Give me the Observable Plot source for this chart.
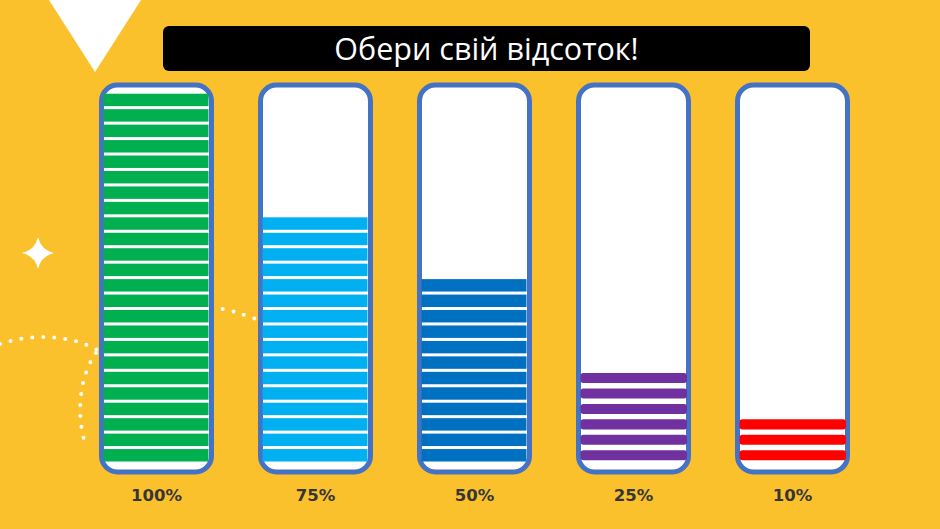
<!DOCTYPE html>
<html>
<head>
<meta charset="utf-8">
<script src="https://cdn.jsdelivr.net/npm/d3@7"></script>
<script src="https://cdn.jsdelivr.net/npm/@observablehq/plot@0.6"></script>
<style>
  html, body { margin: 0; padding: 0; background: #FBC12D; }
  #stage { position: relative; width: 940px; height: 529px; overflow: hidden; background: #FBC12D; }
  #deco { position: absolute; left: 0; top: 0; }
  #tri { position: absolute; left: 49px; top: 0; width: 0; height: 0;
         border-left: 46px solid transparent; border-right: 46px solid transparent; border-top: 72px solid #ffffff; }
  #chart { position: absolute; left: 0; top: 0; }
  #title { position: absolute; left: 163px; top: 26px; width: 647px; height: 45px; background: #000;
           border-radius: 6px; color: #fff; font-family: "Open Sans", sans-serif; font-size: 30.5px;
           line-height: 45px; text-align: center; }
</style>
</head>
<body>
<div id="stage">
  <svg id="deco" width="940" height="529">
    <g fill="none" stroke="#fff" stroke-width="4" stroke-linecap="round" stroke-dasharray="0 11">
      <path d="M0,344 C30,334 70,334 97,350"/>
      <path d="M96,353 C82,372 74,410 86,446"/>
      <path d="M212,307 C226,309 240,313 256,319"/>
    </g>
    <path d="M38,237 Q41,250 54,253 Q41,256 38,269 Q35,256 22,253 Q35,250 38,237 Z" fill="#fff"/>
  </svg>
  <div id="tri"></div>
  <div id="chart"></div>
  <div id="title">Обери свій відсоток!</div>
</div>
<script>
// Categories (tick labels) and how many stripes each container is filled with
const categories = ["100%", "75%", "50%", "25%", "10%"];
const stripeCounts = [24, 16, 12, 6, 3];
const fillColors = ["#00B050", "#00B0F0", "#0070C0", "#7030A0", "#FF0000"];

const stripes = [];
categories.forEach((cat, k) => {
  for (let i = 0; i < stripeCounts[k]; i++) stripes.push({cat, i});
});
const labelRows = categories.map(cat => ({cat}));
const wide = new Set(["25%", "10%"]);

const chart = Plot.plot({
  width: 940,
  height: 529,
  marginLeft: 99.5,
  marginRight: 92.5,
  marginTop: 84.5,
  marginBottom: 57.5,
  style: {background: "transparent", overflow: "visible"},
  fx: {domain: categories, paddingInner: 0.31, paddingOuter: 0, axis: null, label: null},
  y: {domain: [-0.55, 24.5], axis: null},
  color: {domain: categories, range: fillColors},
  marks: [
    Plot.frame({fill: "#ffffff", stroke: "#4472C4", strokeWidth: 5, rx: 16}),
    Plot.rect(stripes.filter(d => !wide.has(d.cat)), {
      fx: "cat", y1: "i", y2: d => d.i + 1, fill: "cat",
      insetTop: 1.5, insetBottom: 1.5, insetLeft: 2.5, insetRight: 2.5
    }),
    Plot.rect(stripes.filter(d => wide.has(d.cat)), {
      fx: "cat", y1: "i", y2: d => d.i + 1, fill: "cat", rx: 3,
      insetTop: 2.7, insetBottom: 2.7, insetLeft: 2.5, insetRight: 1
    }),
    Plot.text(labelRows, {
      fx: "cat", text: "cat", frameAnchor: "bottom", dy: 29,
      fontSize: 16.5, fontWeight: "bold", fill: "#363636", fontFamily: "DejaVu Sans"
    })
  ]
});
document.getElementById("chart").appendChild(chart);
</script>
</body>
</html>
